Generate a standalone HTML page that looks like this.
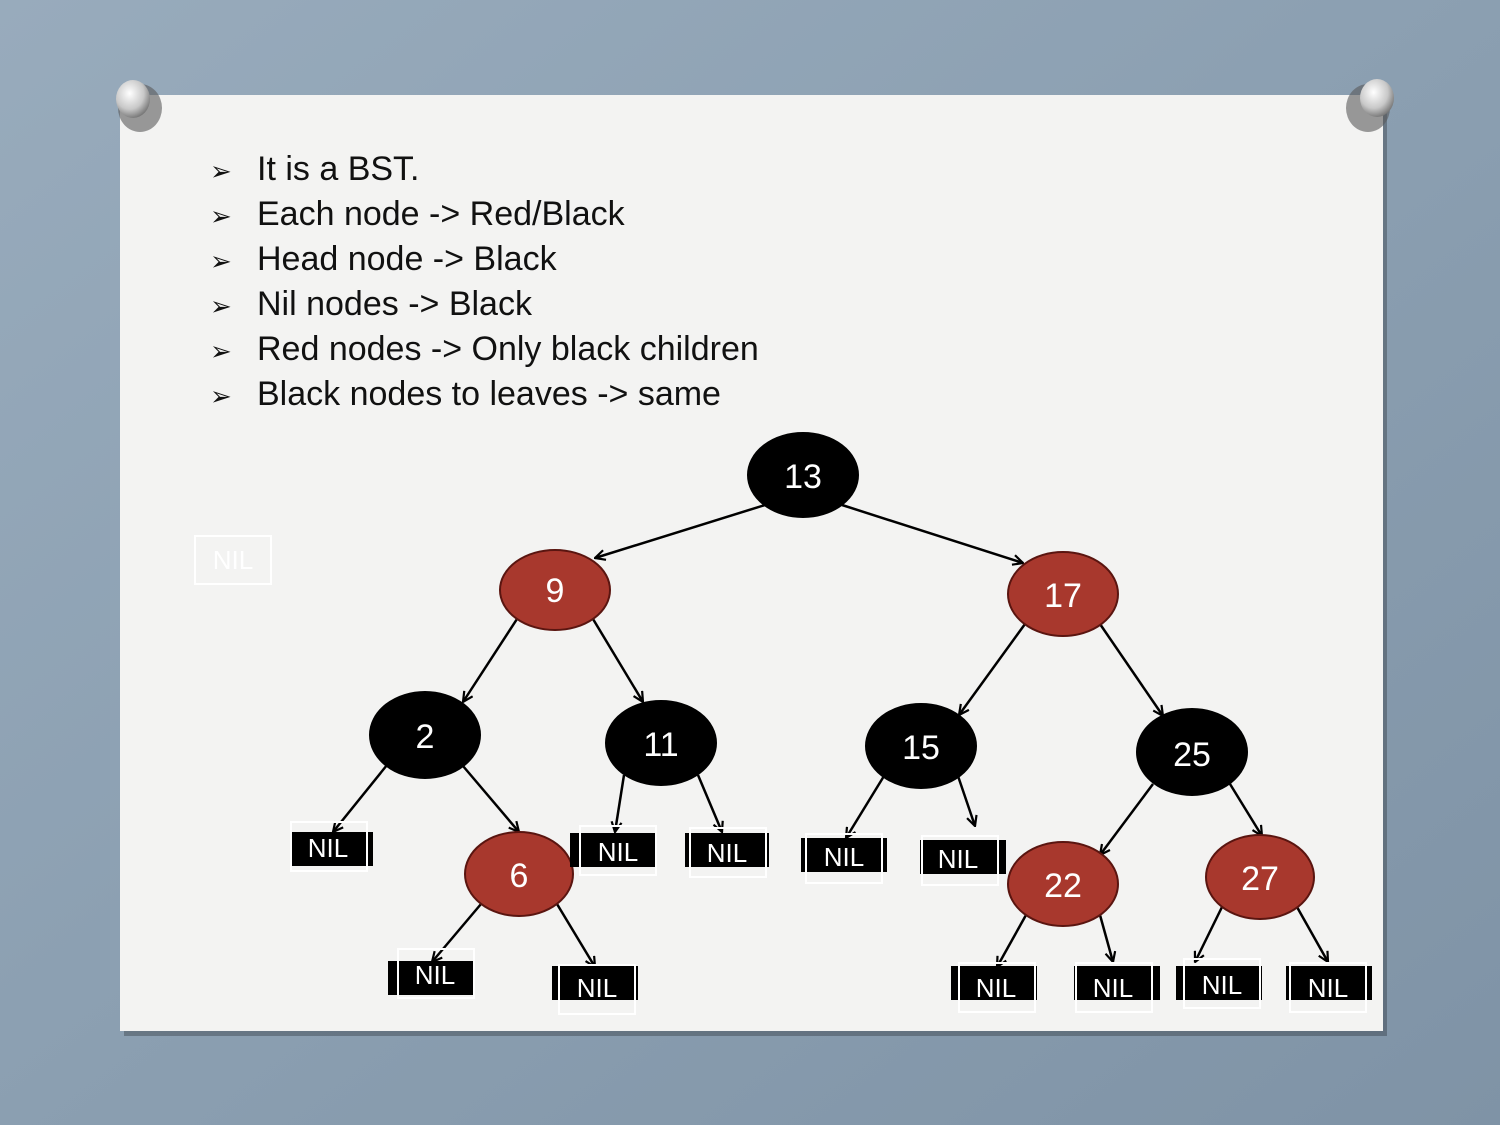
<!DOCTYPE html>
<html><head><meta charset="utf-8"><style>
html,body{margin:0;padding:0;width:1500px;height:1125px;overflow:hidden;background:#8fa3b5;}
svg{display:block}
</style></head><body>
<svg width="1500" height="1125" viewBox="0 0 1500 1125" xmlns="http://www.w3.org/2000/svg" font-family="Liberation Sans, Arial, sans-serif">
<defs>
<linearGradient id="bg" x1="0" y1="0" x2="1" y2="1">
<stop offset="0" stop-color="#98abbc"/><stop offset="0.5" stop-color="#8b9fb1"/><stop offset="1" stop-color="#7f93a6"/>
</linearGradient>
<radialGradient id="pin" cx="0.4" cy="0.35" r="0.7">
<stop offset="0" stop-color="#ffffff"/><stop offset="0.6" stop-color="#c8c8c8"/><stop offset="1" stop-color="#6d6d6d"/>
</radialGradient>
<marker id="ar" viewBox="0 0 12 12" refX="11" refY="6" markerWidth="12" markerHeight="12" markerUnits="userSpaceOnUse" orient="auto">
<path d="M1,1 L11,6 L1,11" fill="none" stroke="#000" stroke-width="2.2"/>
</marker>
</defs>
<rect width="1500" height="1125" fill="url(#bg)"/>
<rect x="124" y="100" width="1263" height="936" fill="#000" opacity="0.25"/>
<rect x="120" y="95" width="1263" height="936" fill="#f3f3f2"/>
<!-- pins -->
<g>
<ellipse cx="140" cy="108" rx="22" ry="24" fill="#5a5a5a" opacity="0.6"/>
<ellipse cx="133" cy="99" rx="17" ry="19" fill="url(#pin)"/>
<ellipse cx="1368" cy="108" rx="22" ry="24" fill="#5a5a5a" opacity="0.6"/>
<ellipse cx="1377" cy="98" rx="17" ry="19" fill="url(#pin)"/>
</g>
<!-- bullets -->
<g font-size="34" fill="#111">
<text x="210" y="180" font-size="26">➢</text><text x="257" y="180">It   is  a   BST.</text>
<text x="210" y="225" font-size="26">➢</text><text x="257" y="225">Each  node  -&gt; Red/Black</text>
<text x="210" y="270" font-size="26">➢</text><text x="257" y="270">Head node  -&gt; Black</text>
<text x="210" y="315" font-size="26">➢</text><text x="257" y="315">Nil  nodes  -&gt;  Black</text>
<text x="210" y="360" font-size="26">➢</text><text x="257" y="360">Red nodes  -&gt; Only  black  children</text>
<text x="210" y="405" font-size="26">➢</text><text x="257" y="405">Black nodes  to  leaves  -&gt; same</text>
</g>
<!-- standalone NIL -->
<rect x="195" y="536" width="76" height="48" fill="none" stroke="#fff" stroke-width="2"/>
<text x="233" y="569" font-size="26" fill="#fff" text-anchor="middle">NIL</text>
<!-- edges -->
<g stroke="#000" stroke-width="2.5" marker-end="url(#ar)">
<line x1="765" y1="505" x2="595" y2="558"/>
<line x1="842" y1="505" x2="1023" y2="563"/>
<line x1="517" y1="619" x2="463" y2="702"/>
<line x1="593" y1="619" x2="643" y2="702"/>
<line x1="1025" y1="624" x2="959" y2="715"/>
<line x1="1100" y1="624" x2="1163" y2="716"/>
<line x1="387" y1="765" x2="333" y2="832"/>
<line x1="463" y1="766" x2="519" y2="832"/>
<line x1="624" y1="775" x2="615" y2="832"/>
<line x1="698" y1="775" x2="722" y2="832"/>
<line x1="884" y1="776" x2="846" y2="838"/>
<line x1="958" y1="776" x2="975" y2="826"/>
<line x1="1153" y1="784" x2="1100" y2="855"/>
<line x1="1230" y1="784" x2="1262" y2="836"/>
<line x1="481" y1="904" x2="432" y2="962"/>
<line x1="557" y1="904" x2="595" y2="967"/>
<line x1="1026" y1="915" x2="997" y2="967"/>
<line x1="1100" y1="915" x2="1113" y2="962"/>
<line x1="1222" y1="907" x2="1195" y2="962"/>
<line x1="1297" y1="907" x2="1328" y2="962"/>
</g>
<!-- nodes -->
<g stroke="#5a1510" stroke-width="2">
<ellipse cx="803" cy="475" rx="55" ry="42" fill="#000" stroke="#000"/>
<ellipse cx="555" cy="590" rx="55" ry="40" fill="#a8382d"/>
<ellipse cx="1063" cy="594" rx="55" ry="42" fill="#a8382d"/>
<ellipse cx="425" cy="735" rx="55" ry="43" fill="#000" stroke="#000"/>
<ellipse cx="661" cy="743" rx="55" ry="42" fill="#000" stroke="#000"/>
<ellipse cx="921" cy="746" rx="55" ry="42" fill="#000" stroke="#000"/>
<ellipse cx="1192" cy="752" rx="55" ry="43" fill="#000" stroke="#000"/>
<ellipse cx="519" cy="874" rx="54" ry="42" fill="#a8382d"/>
<ellipse cx="1063" cy="884" rx="55" ry="42" fill="#a8382d"/>
<ellipse cx="1260" cy="877" rx="54" ry="42" fill="#a8382d"/>
</g>
<g font-size="34" fill="#fff" text-anchor="middle">
<text x="803" y="488">13</text>
<text x="555" y="602">9</text>
<text x="1063" y="607">17</text>
<text x="425" y="748">2</text>
<text x="661" y="756">11</text>
<text x="921" y="759">15</text>
<text x="1192" y="766">25</text>
<text x="519" y="887">6</text>
<text x="1063" y="897">22</text>
<text x="1260" y="890">27</text>
</g>
<!-- NIL boxes -->
<g font-size="26" fill="#fff" text-anchor="middle">
<rect x="290" y="832" width="83" height="34" fill="#000"/><rect x="291" y="822" width="76" height="49" fill="none" stroke="#fff" stroke-width="2"/><text x="328" y="857">NIL</text>
<rect x="570" y="833" width="86" height="34" fill="#000"/><rect x="580" y="826" width="76" height="49" fill="none" stroke="#fff" stroke-width="2"/><text x="618" y="861">NIL</text>
<rect x="685" y="833" width="84" height="34" fill="#000"/><rect x="690" y="828" width="76" height="49" fill="none" stroke="#fff" stroke-width="2"/><text x="727" y="862">NIL</text>
<rect x="801" y="838" width="86" height="34" fill="#000"/><rect x="806" y="834" width="76" height="49" fill="none" stroke="#fff" stroke-width="2"/><text x="844" y="866">NIL</text>
<rect x="920" y="840" width="86" height="34" fill="#000"/><rect x="922" y="836" width="76" height="49" fill="none" stroke="#fff" stroke-width="2"/><text x="958" y="868">NIL</text>
<rect x="388" y="961" width="86" height="34" fill="#000"/><rect x="398" y="949" width="76" height="49" fill="none" stroke="#fff" stroke-width="2"/><text x="435" y="984">NIL</text>
<rect x="552" y="966" width="86" height="34" fill="#000"/><rect x="559" y="965" width="76" height="49" fill="none" stroke="#fff" stroke-width="2"/><text x="597" y="997">NIL</text>
<rect x="951" y="966" width="86" height="34" fill="#000"/><rect x="959" y="963" width="76" height="49" fill="none" stroke="#fff" stroke-width="2"/><text x="996" y="997">NIL</text>
<rect x="1074" y="966" width="86" height="34" fill="#000"/><rect x="1076" y="963" width="76" height="49" fill="none" stroke="#fff" stroke-width="2"/><text x="1113" y="997">NIL</text>
<rect x="1176" y="966" width="86" height="34" fill="#000"/><rect x="1184" y="959" width="76" height="49" fill="none" stroke="#fff" stroke-width="2"/><text x="1222" y="994">NIL</text>
<rect x="1286" y="966" width="86" height="34" fill="#000"/><rect x="1290" y="963" width="76" height="49" fill="none" stroke="#fff" stroke-width="2"/><text x="1328" y="997">NIL</text>
</g>
</svg>
</body></html>
